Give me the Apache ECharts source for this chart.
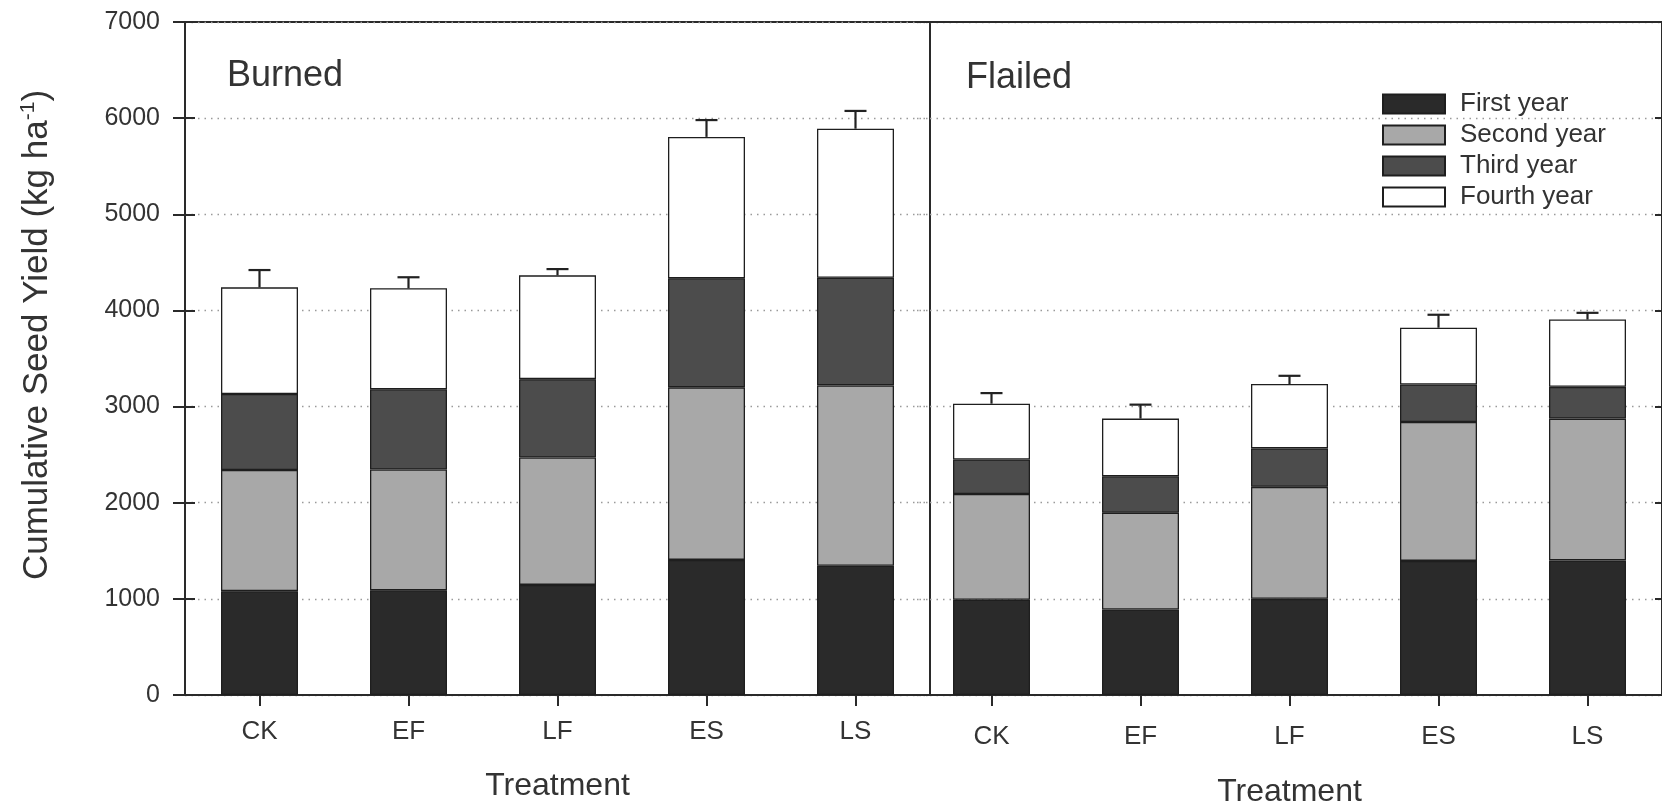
<!DOCTYPE html>
<html>
<head>
<meta charset="utf-8">
<script src="https://cdn.jsdelivr.net/npm/echarts@6/dist/echarts.min.js"></script>
<style>
  html, body { margin: 0; padding: 0; background: #ffffff; }
  #chart { width: 1662px; height: 804px; }
</style>
</head>
<body>
<div id="chart"></div>
<script>
// ---- Data ----
const categories = ['CK', 'EF', 'LF', 'ES', 'LS'];
const seriesNames = ['First year', 'Second year', 'Third year', 'Fourth year'];
const yTickValues = [0, 1000, 2000, 3000, 4000, 5000, 6000, 7000];

// Burned panel: yield added in each year (kg/ha), stacked = cumulative
const burnedFirst  = [1080, 1090, 1145, 1405, 1345];
const burnedSecond = [1260, 1255, 1325, 1795, 1875];
const burnedThird  = [790, 835, 815, 1135, 1120];
const burnedFourth = [1110, 1050, 1080, 1470, 1550];
const burnedErr    = [180, 115, 65, 175, 185];

// Flailed panel
const flailedFirst  = [990, 890, 1000, 1395, 1400];
const flailedSecond = [1100, 1005, 1165, 1445, 1475];
const flailedThird  = [360, 380, 400, 390, 330];
const flailedFourth = [580, 600, 670, 590, 700];
const flailedErr    = [110, 145, 85, 135, 70];

// ---- Styling ----
const FONT = '"Liberation Sans", Arial, Helvetica, sans-serif';
const TXT = '#333333';
const LINE = '#2a2a2a';
const colors = ['#2a2a2a', '#a8a8a8', '#4c4c4c', '#ffffff'];

const chart = echarts.init(document.getElementById('chart'), null, { renderer: 'canvas' });

function totals(a, b, c, d) { return a.map((v, i) => v + b[i] + c[i] + d[i]); }
const burnedTotal = totals(burnedFirst, burnedSecond, burnedThird, burnedFourth);
const flailedTotal = totals(flailedFirst, flailedSecond, flailedThird, flailedFourth);

function barSeries(name, data, idx, xi, yi, stack) {
  return {
    name: name, type: 'bar', stack: stack, data: data,
    xAxisIndex: xi, yAxisIndex: yi, barWidth: 77,
    itemStyle: { color: colors[idx], borderColor: '#1e1e1e', borderWidth: 1.3 },
    emphasis: { disabled: true }, animation: false
  };
}

function errSeries(total, err, xi, yi) {
  return {
    type: 'custom', xAxisIndex: xi, yAxisIndex: yi, z: 10, animation: false,
    data: total.map((t, i) => [i, t, t + err[i]]),
    renderItem: function (params, api) {
      const p0 = api.coord([api.value(0), api.value(1)]);
      const p1 = api.coord([api.value(0), api.value(2)]);
      const half = 11;
      const st = { stroke: '#222', lineWidth: 2.2 };
      return {
        type: 'group',
        children: [
          { type: 'line', shape: { x1: p0[0], y1: p0[1], x2: p1[0], y2: p1[1] }, style: st },
          { type: 'line', shape: { x1: p1[0] - half, y1: p1[1], x2: p1[0] + half, y2: p1[1] }, style: st }
        ]
      };
    }
  };
}

const gridTop = 22, gridH = 673;
const splitStyle = { show: true, lineStyle: { color: '#9a9a9a', width: 1.4, type: [1.5, 5] } };

const option = {
  backgroundColor: '#ffffff',
  textStyle: { fontFamily: FONT },
  title: [
    { text: 'Burned', left: 227, top: 58, padding: 0,
      textStyle: { fontFamily: FONT, fontSize: 36, fontWeight: 'normal', color: TXT } },
    { text: 'Flailed', left: 966, top: 60, padding: 0,
      textStyle: { fontFamily: FONT, fontSize: 36, fontWeight: 'normal', color: TXT } }
  ],
  legend: {
    data: seriesNames, orient: 'vertical', left: 1382, top: 91, padding: 0,
    icon: 'rect', itemWidth: 62, itemHeight: 19, itemGap: 5,
    selectedMode: false,
    textStyle: { fontFamily: FONT, fontSize: 26, lineHeight: 26, color: TXT, padding: [0, 0, 0, 10] }
  },
  grid: [
    { left: 185, width: 745, top: gridTop, height: gridH, show: true, outerBoundsMode: 'none',
      containLabel: false, borderColor: LINE, borderWidth: 2, backgroundColor: 'transparent' },
    { left: 917, width: 745, top: gridTop, height: gridH, show: false, outerBoundsMode: 'none',
      containLabel: false },
    { left: 185, width: 745, top: gridTop, height: gridH, show: false, outerBoundsMode: 'none',
      containLabel: false }
  ],
  xAxis: [
    { type: 'category', gridIndex: 0, data: categories,
      axisLine: { show: true, lineStyle: { color: LINE, width: 2 } },
      axisTick: { show: true, alignWithLabel: true, length: 11, lineStyle: { color: LINE, width: 2 } },
      axisLabel: { fontFamily: FONT, fontSize: 26, color: TXT, margin: 24 },
      name: 'Treatment', nameLocation: 'middle', nameGap: 75,
      nameTextStyle: { fontFamily: FONT, fontSize: 32, color: TXT } },
    { type: 'category', gridIndex: 1, data: categories,
      axisLine: { show: true, lineStyle: { color: LINE, width: 2 } },
      axisTick: { show: true, alignWithLabel: true, length: 11, lineStyle: { color: LINE, width: 2 } },
      axisLabel: { fontFamily: FONT, fontSize: 26, color: TXT, margin: 29 },
      name: 'Treatment', nameLocation: 'middle', nameGap: 81,
      nameTextStyle: { fontFamily: FONT, fontSize: 32, color: TXT } },
    { type: 'category', gridIndex: 1, position: 'top', data: categories,
      axisLine: { show: true, lineStyle: { color: LINE, width: 2 } },
      axisTick: { show: false }, axisLabel: { show: false } },
    { type: 'category', gridIndex: 2, data: categories, show: false }
  ],
  yAxis: [
    { type: 'value', gridIndex: 0, min: 0, max: 7000, interval: 1000, position: 'left',
      axisLine: { show: true, lineStyle: { color: LINE, width: 2 } },
      axisTick: { show: true, length: 12, lineStyle: { color: LINE, width: 2 } },
      axisLabel: { fontFamily: FONT, fontSize: 25, color: TXT, margin: 25,
        formatter: function (v) { return yTickValues.indexOf(v) >= 0 ? String(v) : ''; } },
      splitLine: splitStyle },
    { type: 'value', gridIndex: 2, min: 0, max: 7000, interval: 1000, position: 'left',
      axisLine: { show: false },
      axisTick: { show: true, inside: true, length: 10, lineStyle: { color: LINE, width: 2 } },
      axisLabel: { show: false }, splitLine: { show: false } },
    { type: 'value', gridIndex: 1, min: 0, max: 7000, interval: 1000, position: 'right',
      axisLine: { show: true, lineStyle: { color: LINE, width: 2 } },
      axisTick: { show: true, inside: true, length: 7, lineStyle: { color: LINE, width: 2 } },
      axisLabel: { show: false },
      splitLine: splitStyle }
  ],
  graphic: [
    { type: 'text', x: 37, y: 335, rotation: Math.PI / 2,
      style: {
        text: '{a|Cumulative Seed Yield (kg ha}{s|-1}{a|)}',
        align: 'center', verticalAlign: 'middle', fill: TXT,
        rich: {
          a: { fontFamily: FONT, fontSize: 35, fill: TXT, color: TXT },
          s: { fontFamily: FONT, fontSize: 21, fill: TXT, color: TXT, padding: [0, 0, 17, 0] }
        }
      } }
  ],
  series: [
    barSeries(seriesNames[0], burnedFirst, 0, 0, 0, 'burned'),
    barSeries(seriesNames[1], burnedSecond, 1, 0, 0, 'burned'),
    barSeries(seriesNames[2], burnedThird, 2, 0, 0, 'burned'),
    barSeries(seriesNames[3], burnedFourth, 3, 0, 0, 'burned'),
    barSeries(seriesNames[0], flailedFirst, 0, 1, 2, 'flailed'),
    barSeries(seriesNames[1], flailedSecond, 1, 1, 2, 'flailed'),
    barSeries(seriesNames[2], flailedThird, 2, 1, 2, 'flailed'),
    barSeries(seriesNames[3], flailedFourth, 3, 1, 2, 'flailed'),
    errSeries(burnedTotal, burnedErr, 0, 0),
    errSeries(flailedTotal, flailedErr, 1, 2)
  ]
};

chart.setOption(option);
</script>
</body>
</html>
